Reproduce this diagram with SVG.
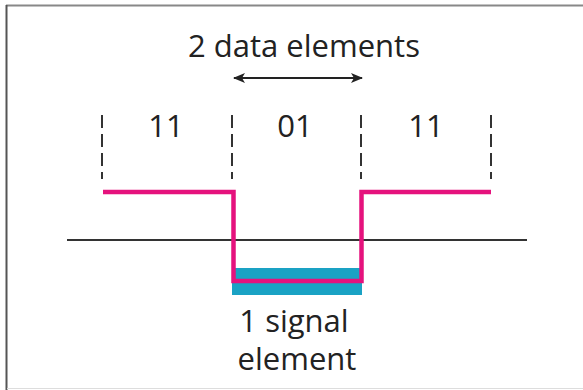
<svg xmlns="http://www.w3.org/2000/svg" width="583" height="390" viewBox="0 0 583 390">
  <style>
    .lbl { font-family: "Open Sans", "Noto Sans", "DejaVu Sans", sans-serif; fill: #222; text-anchor: middle; }
    .big { font-size: 31px; }
    .dash { stroke: #333; stroke-width: 2; stroke-dasharray: 13 6; fill: none; }
    .sig { stroke: #E5127D; stroke-width: 4.5; fill: none; stroke-linejoin: miter; }
  </style>
  <defs>
    <marker id="ah" viewBox="0 0 12 10" refX="11" refY="5" markerWidth="12" markerHeight="10" markerUnits="userSpaceOnUse" orient="auto-start-reverse">
      <path d="M0,0 L12,5 L0,10 L3,5 Z" fill="#222"/>
    </marker>
  </defs>
  <rect width="583" height="390" fill="#fff"/>
  <!-- frame -->
  <g id="frame">
    <line x1="6" y1="5.5" x2="583" y2="5.5" stroke="#888" stroke-width="2"/>
    <line x1="6.5" y1="5" x2="6.5" y2="390" stroke="#555" stroke-width="2"/>
    <line x1="7" y1="388.5" x2="583" y2="388.5" stroke="#ddd" stroke-width="1"/>
  </g>
  <!-- element boundaries -->
  <g id="boundaries">
    <line class="dash" x1="102" y1="115" x2="102" y2="179"/>
    <line class="dash" x1="232" y1="115" x2="232" y2="179"/>
    <line class="dash" x1="361" y1="115" x2="361" y2="179"/>
    <line class="dash" x1="491" y1="115" x2="491" y2="179"/>
  </g>
  <g id="bits">
    <text class="lbl big" x="166" y="137">11</text>
    <text class="lbl big" x="295" y="137">01</text>
    <text class="lbl big" x="426" y="137">11</text>
  </g>
  <g id="axis">
    <line x1="67" y1="240" x2="527" y2="240" stroke="#333" stroke-width="2"/>
  </g>
  <g id="signal-element">
    <rect x="232" y="268" width="130" height="27" fill="#1AA2C4"/>
  </g>
  <g id="connectors">
    <line x1="234" y1="78" x2="362" y2="78" stroke="#222" stroke-width="2" marker-start="url(#ah)" marker-end="url(#ah)"/>
    <path class="sig" d="M103,192 H233.5 V281 H361.5 V192 H491"/>
  </g>
  <g id="labels">
    <text class="lbl big" x="304" y="57">2 data elements</text>
    <text class="lbl big" x="294" y="332">1 signal</text>
    <text class="lbl big" x="297" y="370">element</text>
  </g>
</svg>
